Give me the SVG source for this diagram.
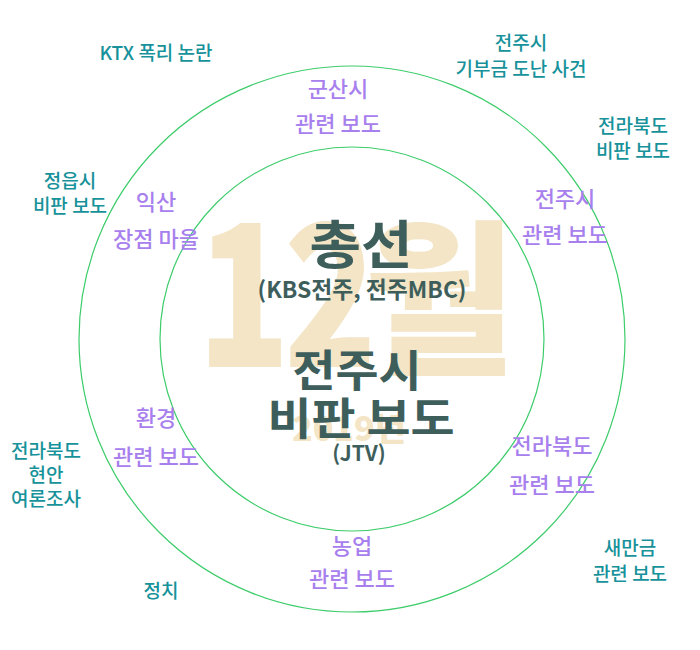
<svg xmlns="http://www.w3.org/2000/svg" width="700" height="650" viewBox="0 0 700 650">
<style>
text{font-family:"Noto Sans CJK KR","Noto Sans",sans-serif;text-anchor:middle}
.teal{fill:#17929a;font-size:19px;font-weight:500}
.pur{fill:#a880ee;font-size:22px;font-weight:500}
.ctr{fill:#3e5e5c;font-weight:700}
.wm{fill:#f3e5c5;font-weight:900}
.ring{fill:none;stroke:#3ccc6a;stroke-width:1.2}
</style>
<rect width="700" height="650" fill="#ffffff"/>
<g id="watermark">
<text class="wm" x="0" y="0" font-size="198" letter-spacing="-8" transform="translate(284,367) scale(0.77,1)">12</text>
<text class="wm" x="440" y="360" font-size="165">월</text>
<text class="wm" x="349" y="441" font-size="34">2019년</text>
</g>
<g id="connectors">
<circle class="ring" cx="352" cy="339" r="273"/>
<circle class="ring" cx="352" cy="339" r="192"/>
</g>
<g id="center">
<text class="ctr" x="361" y="264" font-size="52" textLength="103" lengthAdjust="spacingAndGlyphs">총선</text>
<text class="ctr" x="362" y="298" font-size="23" textLength="209" lengthAdjust="spacingAndGlyphs">(KBS전주, 전주MBC)</text>
<text class="ctr" x="357" y="387" font-size="44" textLength="129" lengthAdjust="spacingAndGlyphs">전주시</text>
<text class="ctr" x="361" y="435" font-size="44" textLength="187" lengthAdjust="spacingAndGlyphs">비판 보도</text>
<text class="ctr" x="359" y="461" font-size="21" font-weight="500">(JTV)</text>
</g>
<g id="n-ktx"><text class="teal" x="156" y="60">KTX 폭리 논란</text></g>
<g id="n-donation"><text class="teal" x="521" y="50">전주시</text><text class="teal" x="521" y="76">기부금 도난 사건</text></g>
<g id="n-jb-critic"><text class="teal" x="633" y="133">전라북도</text><text class="teal" x="633" y="158">비판 보도</text></g>
<g id="n-jeongeup"><text class="teal" x="70" y="188">정읍시</text><text class="teal" x="70" y="213">비판 보도</text></g>
<g id="n-poll"><text class="teal" x="46" y="458">전라북도</text><text class="teal" x="46" y="482">현안</text><text class="teal" x="46" y="506">여론조사</text></g>
<g id="n-politics"><text class="teal" x="161" y="598">정치</text></g>
<g id="n-saemangeum"><text class="teal" x="630" y="555">새만금</text><text class="teal" x="630" y="581">관련 보도</text></g>
<g id="n-gunsan"><text class="pur" x="338" y="97">군산시</text><text class="pur" x="338" y="132">관련 보도</text></g>
<g id="n-iksan"><text class="pur" x="156" y="210">익산</text><text class="pur" x="156" y="247">장점 마을</text></g>
<g id="n-jeonju"><text class="pur" x="565" y="207">전주시</text><text class="pur" x="565" y="243">관련 보도</text></g>
<g id="n-env"><text class="pur" x="156" y="426">환경</text><text class="pur" x="156" y="465">관련 보도</text></g>
<g id="n-jb"><text class="pur" x="552" y="454">전라북도</text><text class="pur" x="552" y="493">관련 보도</text></g>
<g id="n-agri"><text class="pur" x="352" y="554">농업</text><text class="pur" x="352" y="587">관련 보도</text></g>
</svg>
